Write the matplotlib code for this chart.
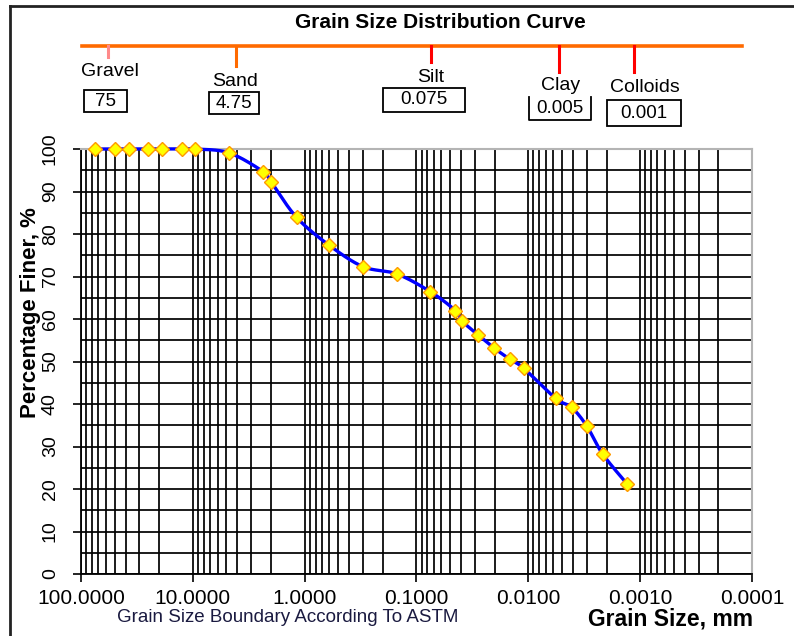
import numpy as np
import matplotlib
matplotlib.use("Agg")
import matplotlib.pyplot as plt
from matplotlib.patches import Rectangle
from matplotlib.lines import Line2D
from matplotlib.ticker import LogLocator, MultipleLocator, FixedLocator

plt.rcParams['font.family'] = ['Liberation Sans', 'DejaVu Sans']

# sieve + hydrometer results
grain_size = [75, 50, 37.5, 25, 19, 12.5, 9.5, 4.75, 2.36, 2.0, 1.18, 0.6, 0.3, 0.15,
              0.075, 0.045, 0.039, 0.028, 0.0203, 0.0146, 0.0110,
              0.0057, 0.0041, 0.0030, 0.00216, 0.0013]
pct_finer = [100, 100, 100, 100, 100, 100, 100, 99.1, 94.7, 92.3, 83.9, 77.3, 72.3, 70.6,
             66.4, 62.0, 59.5, 56.2, 53.2, 50.5, 48.4,
             41.3, 39.2, 34.8, 28.2, 21.1]

x_ticks = [100, 10, 1, 0.1, 0.01, 0.001, 0.0001]
x_ticklabels = ['100.0000', '10.0000', '1.0000', '0.1000', '0.0100', '0.0010', '0.0001']

soil_names = ['Gravel', 'Sand', 'Silt', 'Clay', 'Colloids']
boundary_sizes = ['75', '4.75', '0.075', '0.005', '0.001']

W, H = 794, 636
fig = plt.figure(figsize=(W / 100, H / 100), dpi=100)
ax = fig.add_axes([81 / W, 1 - 574 / H, (752 - 81) / W, (574 - 149) / H])


def smooth(xs, ys, n=24):
    # bezier smoothing in screen-like space (like the spreadsheet "smoothed line")
    u = np.log10(np.array(xs, float)) * 112.0
    v = np.array(ys, float) * 4.25
    pts = np.column_stack([u, v])
    p = np.vstack([pts[0], pts, pts[-1]])
    t = np.linspace(0, 1, n, endpoint=False)[:, None]
    segs = []
    for i in range(1, len(p) - 2):
        p0, p1, p2, p3 = p[i - 1], p[i], p[i + 1], p[i + 2]
        c1 = p1 + (p2 - p0) / 6.0
        c2 = p2 - (p3 - p1) / 6.0
        segs.append((1 - t) ** 3 * p1 + 3 * (1 - t) ** 2 * t * c1 + 3 * (1 - t) * t ** 2 * c2 + t ** 3 * p2)
    segs.append(pts[-1:])
    s = np.vstack(segs)
    return 10 ** (s[:, 0] / 112.0), s[:, 1] / 4.25


ax.set_xscale('log')
ax.set_xlim(100, 0.0001)
ax.set_ylim(0, 100)

ax.xaxis.set_major_locator(FixedLocator(x_ticks))
ax.set_xticklabels(x_ticklabels)
ax.xaxis.set_minor_locator(LogLocator(base=10, subs=np.arange(2, 10)))
ax.xaxis.set_minor_formatter(plt.NullFormatter())
ax.yaxis.set_major_locator(MultipleLocator(10))
ax.yaxis.set_minor_locator(MultipleLocator(5))

ax.grid(True, which='both', color='black', lw=1.25)
ax.set_axisbelow(True)

ax.tick_params(axis='x', which='major', length=6, width=1.2, direction='out', pad=5, labelsize=15)
ax.tick_params(axis='x', which='minor', length=0)
ax.tick_params(axis='y', which='major', length=6, width=1.2, direction='out', pad=10, labelsize=14)
ax.tick_params(axis='y', which='minor', length=0)
for lab in ax.get_yticklabels():
    lab.set_rotation(90)
    lab.set_va('center')

for side in ['top', 'right']:
    ax.spines[side].set_color('#b4b4b4')
    ax.spines[side].set_linewidth(1.5)
for side in ['left', 'bottom']:
    ax.spines[side].set_color('black')
    ax.spines[side].set_linewidth(1.3)

sx, sy = smooth(grain_size, pct_finer)
ax.plot(sx, sy, color='#0000ff', lw=2.4, clip_on=False, zorder=3)
ax.plot(grain_size, pct_finer, ls='none', marker='D', ms=7.5, mfc='#ffff00', mec='#ff9900',
        mew=1.0, clip_on=False, zorder=4)

ax.set_ylabel('Percentage Finer, %', fontsize=16, fontweight='bold')
ax.yaxis.set_label_coords(-0.06, 0.616)

fig.text(288 / W, 1 - 617 / H, 'Grain Size Boundary According To ASTM', ha='center', va='center',
         fontsize=13.5, color='#1a1a40')
fig.text(753 / W, 1 - 619 / H, 'Grain Size, mm', ha='right', va='center', fontsize=16.5,
         fontweight='bold')

# top boundary legend
fig.text(440 / W, 1 - 22 / H, 'Grain Size Distribution Curve', ha='center', va='center',
         fontsize=15, fontweight='bold')
fig.add_artist(Line2D([82 / W, 742 / W], [1 - 45.5 / H, 1 - 45.5 / H], color='#ff6a00', lw=2.6))

tick_x = [108, 236, 431, 559, 634]
tick_end = [57, 66, 62, 72, 72]
tick_col = ['#ff8a8a', '#ff6a00', '#ff0000', '#ff0000', '#ff0000']
name_xy = [(110, 72), (235, 81), (431, 78), (561, 86), (645, 87)]
box_x0 = [84, 209, 383, 529, 607]
box_x1 = [127, 259, 465, 591, 681]
box_y0 = [90, 92, 88, 97, 100]
box_y1 = [112, 114, 112, 120, 126]

for i in range(len(soil_names)):
    fig.add_artist(Line2D([tick_x[i] / W] * 2, [1 - 46 / H, 1 - tick_end[i] / H],
                          color=tick_col[i], lw=2.2))
    fig.text(name_xy[i][0] / W, 1 - name_xy[i][1] / H, soil_names[i], ha='center', va='center',
             fontsize=14)
    x0, x1, y0, y1 = box_x0[i], box_x1[i], box_y0[i], box_y1[i]
    if soil_names[i] == 'Clay':
        # open-top box
        fig.add_artist(Line2D([x0 / W, x0 / W, x1 / W, x1 / W],
                              [1 - y0 / H, 1 - y1 / H, 1 - y1 / H, 1 - y0 / H], color='black', lw=1.3))
    else:
        fig.add_artist(Rectangle((x0 / W, 1 - y1 / H), (x1 - x0) / W, (y1 - y0) / H,
                                 transform=fig.transFigure, fill=False, ec='black', lw=1.3))
    fig.text((x0 + x1) / 2 / W, 1 - (y0 + y1) / 2 / H, boundary_sizes[i], ha='center', va='center',
             fontsize=13.5)

# outer border (top and left)
fig.add_artist(Line2D([10 / W, 1], [1 - 6 / H, 1 - 6 / H], color='#222222', lw=2.0))
fig.add_artist(Line2D([10 / W, 10 / W], [1 - 6 / H, 0], color='#222222', lw=2.0))

fig.savefig('out.png', dpi=100)
